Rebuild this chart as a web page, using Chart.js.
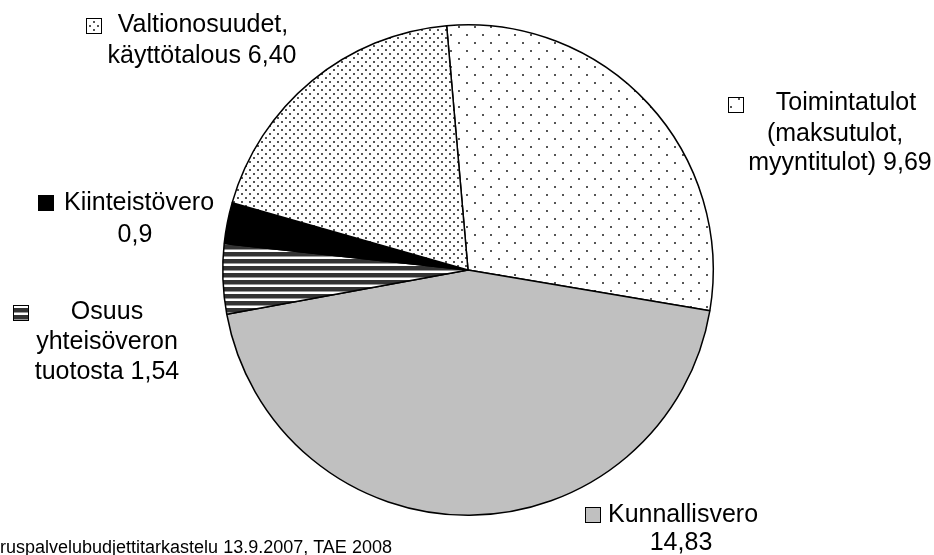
<!DOCTYPE html>
<html>
<head>
<meta charset="utf-8">
<script src="https://cdn.jsdelivr.net/npm/chart.js@4"></script>
<style>
  html, body { margin: 0; padding: 0; background: #fff; }
  #wrap { width: 934px; height: 555px; position: relative; }
</style>
</head>
<body>
<div id="wrap"><canvas id="pie" width="934" height="555"></canvas></div>
<script>
// revenue shares, order = clockwise from top
var categories = ["Toimintatulot", "Kunnallisvero", "Osuus yhteisöveron tuotosta", "Kiinteistövero", "Valtionosuudet, käyttötalous"];
var values = [9.69, 14.83, 1.54, 0.9, 6.40];
var labelLines = [
    ["Toimintatulot", "(maksutulot,", "myyntitulot) 9,69"],
    ["Kunnallisvero", "14,83"],
    ["Osuus", "yhteisöveron", "tuotosta 1,54"],
    ["Kiinteistövero", "0,9"],
    ["Valtionosuudet,", "käyttötalous 6,40"]
];
var sourceNote = "ruspalvelubudjettitarkastelu 13.9.2007, TAE 2008";

function makePattern(w, h, draw) {
    var c = document.createElement('canvas');
    c.width = w; c.height = h;
    var g = c.getContext('2d');
    g.fillStyle = '#fff';
    g.fillRect(0, 0, w, h);
    draw(g);
    return document.getElementById('pie').getContext('2d').createPattern(c, 'repeat');
}

var sparseDots = makePattern(16, 16, function (g) {
    g.fillStyle = '#555';
    g.fillRect(2, 2, 2, 2);
    g.fillRect(10, 10, 2, 2);
});
var denseDots = makePattern(8, 8, function (g) {
    g.fillStyle = '#555';
    g.fillRect(1, 1, 2, 2);
    g.fillRect(5, 5, 2, 2);
});
var stripes = makePattern(7, 7, function (g) {
    g.fillStyle = '#333';
    g.fillRect(0, 0, 7, 4);
    g.fillStyle = '#999';
    g.fillRect(0, 4, 7, 1);
});
var fills = [sparseDots, '#c0c0c0', stripes, '#000000', denseDots];

// label placement: marker top-left, then centre of each text line
var labelPos = [
    { mx: 728, my: 97, lines: [[846, 103], [835, 134], [840, 163]] },
    { mx: 585, my: 507, lines: [[683, 515], [681, 543]] },
    { mx: 13, my: 305, lines: [[107, 312], [107, 342], [107, 372]] },
    { mx: 38, my: 195, lines: [[139, 203], [135, 235]] },
    { mx: 86, my: 18, lines: [[203, 25], [202, 56]] }
];

var labelPlugin = {
    id: 'pieLabels',
    afterDraw: function (chart) {
        var ctx = chart.ctx;
        ctx.save();
        ctx.font = '25px "Liberation Sans", Arial, sans-serif';
        ctx.textAlign = 'center';
        ctx.textBaseline = 'middle';
        labelLines.forEach(function (lines, i) {
            var p = labelPos[i];
            ctx.fillStyle = fills[i];
            ctx.fillRect(p.mx, p.my, 16, 16);
            ctx.strokeStyle = '#000';
            ctx.lineWidth = 1;
            ctx.strokeRect(p.mx + 0.5, p.my + 0.5, 15, 15);
            ctx.fillStyle = '#000';
            lines.forEach(function (t, j) {
                ctx.fillText(t, p.lines[j][0], p.lines[j][1]);
            });
        });
        ctx.font = '18px "Liberation Sans", Arial, sans-serif';
        ctx.textAlign = 'left';
        ctx.textBaseline = 'alphabetic';
        ctx.fillText(sourceNote, 0, 553);
        ctx.restore();
    }
};

new Chart(document.getElementById('pie'), {
    type: 'pie',
    data: {
        labels: categories,
        datasets: [{
            data: values,
            backgroundColor: fills,
            borderColor: '#000',
            borderWidth: 1.5
        }]
    },
    options: {
        responsive: false,
        animation: false,
        rotation: -5,
        layout: { padding: { left: 222, right: 220, top: 24, bottom: 39 } },
        plugins: {
            legend: { display: false },
            tooltip: { enabled: false }
        }
    },
    plugins: [labelPlugin]
});
</script>
</body>
</html>
